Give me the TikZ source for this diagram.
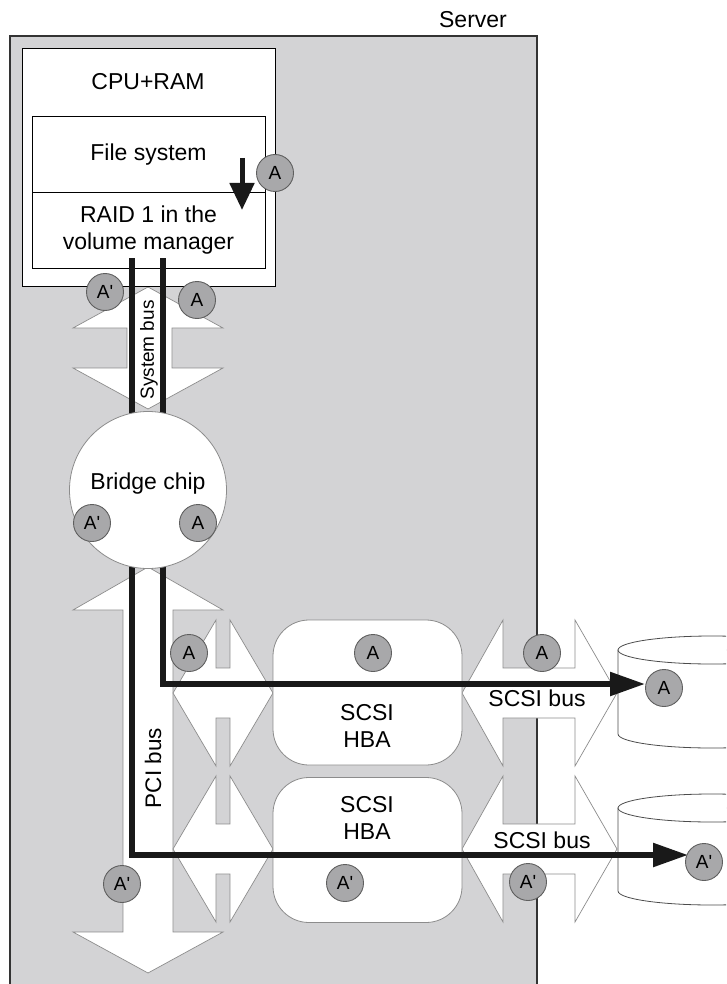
\documentclass[tikz,border=0pt]{standalone}
\usepackage{fontspec}
\setmainfont{Liberation Sans}
\usetikzlibrary{arrows.meta}
\definecolor{srvgray}{RGB}{211,211,213}
\definecolor{tokfill}{RGB}{168,168,170}
\definecolor{tokline}{RGB}{95,95,95}
\definecolor{arrline}{RGB}{140,140,140}
\newcommand\hdbl[5]{\draw[bigarrow] (#1,#5) -- (#2,#5-73) -- (#2,#5-25) -- (#3,#5-25) -- (#3,#5-73) -- (#4,#5) -- (#3,#5+73) -- (#3,#5+25) -- (#2,#5+25) -- (#2,#5+73) -- cycle;}
\newcommand\vdbl[7]{\draw[bigarrow] (#1,#2) -- (#1+75,#3) -- (#7,#3) -- (#7,#4) -- (#1+75,#4) -- (#1,#5) -- (#1-75,#4) -- (#6,#4) -- (#6,#3) -- (#1-75,#3) -- cycle;}
\begin{document}
\begin{tikzpicture}[x=1pt,y=-1pt,
  lbl/.style={font=\fontsize{23}{27}\selectfont, align=center, inner sep=0pt},
  tok/.style={circle, draw=tokline, fill=tokfill, line width=0.9pt, minimum size=37pt, inner sep=0pt, font=\fontsize{19}{19}\selectfont},
  bigarrow/.style={draw=arrline, fill=white, line width=0.7pt, line join=miter},
  box/.style={draw=black, fill=white, line width=1pt, inner sep=0pt},
  hba/.style={draw=arrline, fill=white, line width=0.8pt, rounded corners=36pt, inner sep=0pt, minimum width=189pt, minimum height=145pt},
  disk/.style={draw=black!70, fill=white, line width=0.8pt},
  datapath/.style={line width=5.5pt, draw=black!90},
  tiparrow/.style={-{Triangle[length=35pt,width=23pt]}}
]
\useasboundingbox (0,0) rectangle (726,984);
\clip (0,0) rectangle (726,984);
% server
\node[draw=black!80, fill=srvgray, line width=1.2pt, minimum width=527pt, minimum height=964pt, inner sep=0pt] (server) at (273.5,518) {};
% big white bus arrows
\vdbl{148}{287}{328}{368}{409}{127}{172}
\vdbl{148}{567}{610}{932}{973}{123}{173}
\hdbl{173}{216}{230}{273}{693}
\hdbl{173}{216}{230}{273}{849}
\hdbl{462}{503}{575}{617}{693}
\hdbl{462}{503}{575}{617}{849}
% CPU box
\node[box, minimum width=253pt, minimum height=237pt] (cpu) at (148.5,167.5) {};
\node[box, lbl, minimum width=233pt, minimum height=76pt] (fs) at (148.5,155) {File system};
\node[box, lbl, minimum width=233pt, minimum height=75pt] (raid) at (148.5,230.5) {RAID 1 in the\\volume manager};
\node[lbl] (cpulbl) at (148,82) {CPU+RAM};
% HBAs
\node[hba] (hba1) at (367.5,692.5) {};
\node[hba] (hba2) at (367.5,850) {};
\node[lbl] (hba1lbl) at (367,726) {SCSI\\HBA};
\node[lbl] (hba2lbl) at (367,818) {SCSI\\HBA};
% disks
\path[disk] (618,650) -- (618,734) arc[start angle=180, end angle=360, x radius=94pt, y radius=14pt] -- (806,650) -- cycle;
\path[disk] (712,650) ellipse [x radius=94pt, y radius=14pt];
\path[disk] (618,808) -- (618,891) arc[start angle=180, end angle=360, x radius=94pt, y radius=14pt] -- (806,808) -- cycle;
\path[disk] (712,808) ellipse [x radius=94pt, y radius=14pt];
% data paths
\coordinate (lStart) at (132,258);
\coordinate (rStart) at (163,258);
\coordinate (tipA) at (645,684);
\coordinate (tipAp) at (688,855);
\draw[datapath, tiparrow] (rStart) |- (tipA);
\draw[datapath, tiparrow] (lStart) |- (tipAp);
\coordinate (fsTop) at (242,158);
\coordinate (fsTip) at (242,210);
\draw[line width=5pt, draw=black!90, -{Triangle[length=27pt,width=24pt]}] (fsTop) -- (fsTip);
% bridge chip
\node[circle, draw=arrline, fill=white, line width=0.8pt, minimum size=157pt, inner sep=0pt] (bridge) at (148,490) {};
\node[lbl] (brlbl) at (148,484) {Bridge chip};
% rotated labels
\node[lbl, rotate=90, font=\fontsize{19}{19}\selectfont] (sysbus) at (149,350) {System bus};
\node[lbl, rotate=90, font=\fontsize{22.5}{22.5}\selectfont] (pcibus) at (153,768) {PCI bus};
\node[lbl] (scsibus1) at (537,698) {SCSI bus};
\node[lbl] (scsibus2) at (542,840) {SCSI bus};
\node[lbl] (srvlbl) at (473,20) {Server};
% tokens
\node[tok] (t1) at (275,173) {A};
\node[tok] (t2) at (105,292) {A\textquotesingle};
\node[tok] (t3) at (197,300) {A};
\node[tok] (t4) at (92,523) {A\textquotesingle};
\node[tok] (t5) at (198,523) {A};
\node[tok] (t6) at (189,653) {A};
\node[tok] (t7) at (373,653) {A};
\node[tok] (t8) at (542,653) {A};
\node[tok] (t9) at (664,688) {A};
\node[tok] (t10) at (122,884) {A\textquotesingle};
\node[tok] (t11) at (345,883) {A\textquotesingle};
\node[tok] (t12) at (528,882) {A\textquotesingle};
\node[tok] (t13) at (704,862) {A\textquotesingle};
\end{tikzpicture}
\end{document}
